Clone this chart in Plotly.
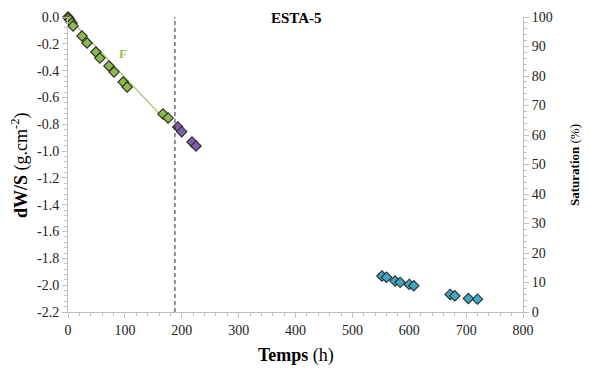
import plotly.graph_objects as go

# Data
green_t = [0, 1, 3.5, 7, 9, 24.6, 33.4, 49, 56, 72, 81, 97, 104, 167, 176]
green_v = [0.0, -0.01, -0.022, -0.045, -0.067, -0.142, -0.194, -0.261, -0.306, -0.365, -0.41, -0.485, -0.522, -0.723, -0.753]
purple_t = [193, 200, 218, 225]
purple_v = [-0.82, -0.855, -0.932, -0.962]
cyan_t = [552, 560, 575, 584, 600, 608, 672, 680, 704, 720]
cyan_v = [-1.932, -1.941, -1.969, -1.979, -1.994, -2.004, -2.069, -2.079, -2.099, -2.104]
fit_t = [0, 176]
fit_v = [0.0, -0.79]
dash_t = 188

y_ticks = [0.0, -0.2, -0.4, -0.6, -0.8, -1.0, -1.2, -1.4, -1.6, -1.8, -2.0, -2.2]
y_ticktext = ["0.0", "-0.2", "-0.4", "-0.6", "-0.8", "-1.0", "-1.2", "-1.4", "-1.6", "-1.8", "-2.0", "-2.2"]
x_ticks = [0, 100, 200, 300, 400, 500, 600, 700, 800]
y2_ticks = [0, 10, 20, 30, 40, 50, 60, 70, 80, 90, 100]

FONT = "Liberation Serif"
AXC = "#bfbfbf"
W, H = 589, 372
L, R, T, B = 68, 66, 17, 60

fig = go.Figure()
fig.add_trace(go.Scatter(x=fit_t, y=fit_v, mode="lines", cliponaxis=False,
                         line=dict(color="#a9c97a", width=1.3), showlegend=False, hoverinfo="skip"))
mk = dict(symbol="diamond", size=8, line=dict(color="#2b2b2b", width=1.1))
fig.add_trace(go.Scatter(x=green_t, y=green_v, mode="markers", cliponaxis=False,
                         marker=dict(color="#8db84a", **mk), showlegend=False))
fig.add_trace(go.Scatter(x=purple_t, y=purple_v, mode="markers", cliponaxis=False,
                         marker=dict(color="#7f5fa8", **mk), showlegend=False))
fig.add_trace(go.Scatter(x=cyan_t, y=cyan_v, mode="markers", cliponaxis=False,
                         marker=dict(color="#3fa8c6", **mk), showlegend=False))
fig.add_trace(go.Scatter(x=[0], y=[0], yaxis="y2", mode="markers",
                         marker=dict(opacity=0), showlegend=False, hoverinfo="skip"))

fig.add_shape(type="line", x0=dash_t, x1=dash_t, y0=0, y1=1, xref="x", yref="paper",
              line=dict(color="#222222", width=1, dash="4px,3px"))

fig.add_annotation(x=97, y=-0.27, text="<b>F</b>", showarrow=False,
                   font=dict(family=FONT, size=13, color="#9bbb59"))


def px(xp):
    return (xp - L) / (W - L - R)


def py(yp):
    return (H - B - yp) / (H - T - B)


def label(xp, yp, text, size, angle=0):
    fig.add_annotation(x=px(xp), y=py(yp), xref="paper", yref="paper", textangle=angle,
                       xanchor="center", yanchor="middle", text=text, showarrow=False,
                       font=dict(family=FONT, size=size, color="black"))


label(296, 18, "<b>ESTA-5</b>", 15)
label(20, 165, "<b>dW/S</b> (g.cm<sup>-2</sup>)", 18, -90)
label(296, 355, "<b>Temps</b> (h)", 18)
label(574, 165, "<b>Saturation</b> (%)", 13, -90)

axis_common = dict(showgrid=False, zeroline=False, showline=True, linecolor=AXC, linewidth=1,
                   ticks="outside", ticklen=5, tickcolor=AXC, automargin=False,
                   tickfont=dict(family=FONT, size=14, color="#222"))

fig.update_layout(
    width=W, height=H,
    margin=dict(l=L, r=R, t=T, b=B),
    paper_bgcolor="white", plot_bgcolor="white",
    font=dict(family=FONT, size=14, color="#222"),
    xaxis=dict(range=[0, 800], tickvals=x_ticks,
               minor=dict(dtick=20, ticks="outside", ticklen=3, tickcolor=AXC), **axis_common),
    yaxis=dict(range=[-2.2, 0], tickvals=y_ticks, ticktext=y_ticktext,
               minor=dict(dtick=0.04, tick0=0, ticks="outside", ticklen=3, tickcolor=AXC), **axis_common),
    yaxis2=dict(range=[0, 100], tickvals=y2_ticks, overlaying="y", side="right",
                minor=dict(dtick=2, ticks="outside", ticklen=3, tickcolor=AXC), **axis_common),
)

fig.write_html("out.html", config={"displayModeBar": False},
               post_script="document.body.style.margin='0px';")
